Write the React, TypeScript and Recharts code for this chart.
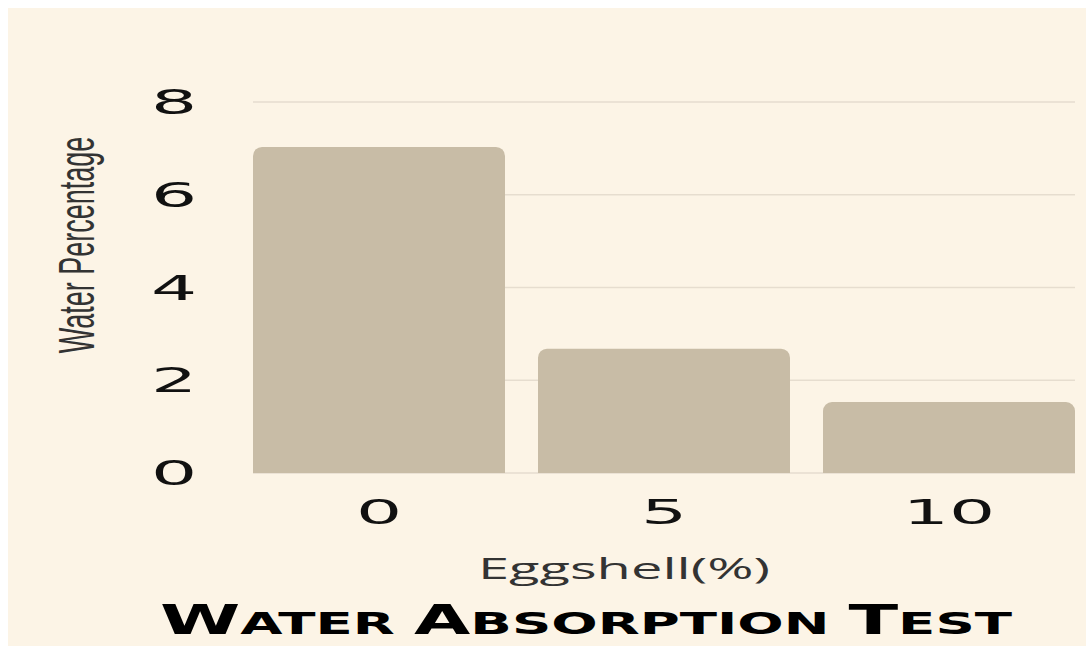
import React from 'react';
import { BarChart, Bar, XAxis, YAxis, CartesianGrid } from 'recharts';

const categories = ['0', '5', '10'];
const waterValues = [7.03, 2.68, 1.53];
const yTicks = [0, 2, 4, 6, 8];

const data = categories.map((name, i) => ({ name, water: waterValues[i] }));

const BG = '#fcf4e6';
const BAR = '#c8bca6';

const YTick = (props: any) => {
  const { x, y, payload } = props;
  return (
    <text
      transform={`translate(${x - 79},${y + 12}) scale(2.2,1)`}
      textAnchor="middle"
      fontFamily="DejaVu Sans"
      fontSize={33}
      fill="#111"
    >
      {payload.value}
    </text>
  );
};

const XTick = (props: any) => {
  const { x, y, payload } = props;
  return (
    <text
      transform={`translate(${x},${y + 51}) scale(2.2,1)`}
      textAnchor="middle"
      fontFamily="DejaVu Sans"
      fontSize={33}
      fill="#111"
    >
      {payload.value}
    </text>
  );
};

const XLabel = () => (
  <text
    x={616}
    y={571}
    textAnchor="middle"
    fontFamily="Open Sans"
    fontSize={30}
    fill="#333"
    textLength={292}
    lengthAdjust="spacingAndGlyphs"
  >
    Eggshell(%)
  </text>
);

// rotated, then stretched across the page x direction
const YLabel = () => (
  <text
    transform="translate(86,237) rotate(-90) scale(1,1.85)"
    textAnchor="middle"
    fontFamily="Liberation Sans"
    fontSize={27}
    fill="#333"
  >
    Water Percentage
  </text>
);

const App: React.FC = () => {
  return (
    <div style={{ position: 'absolute', left: 8, top: 8, width: 1078, height: 638, background: BG }}>
      <BarChart
        width={1078}
        height={638}
        data={data}
        margin={{ top: 94, right: 11, left: 0, bottom: 53 }}
        barCategoryGap={16.5}
      >
        <CartesianGrid vertical={false} stroke="#e6ddcf" strokeWidth={1.5} />
        <XAxis
          dataKey="name"
          height={120}
          axisLine={false}
          tickLine={false}
          tickSize={0}
          tickMargin={0}
          padding={{ left: -16.5, right: -16.5 }}
          tick={<XTick />}
          label={<XLabel />}
        />
        <YAxis
          width={245}
          domain={[0, 8]}
          ticks={yTicks}
          axisLine={false}
          tickLine={false}
          tickSize={0}
          tickMargin={0}
          tick={<YTick />}
          label={<YLabel />}
        />
        <Bar dataKey="water" fill={BAR} radius={[9, 9, 0, 0]} isAnimationActive={false} />
      </BarChart>
      <svg
        width={1078}
        height={638}
        style={{ position: 'absolute', left: 0, top: 0, pointerEvents: 'none' }}
      >
        <text
          x={578}
          y={626}
          textAnchor="middle"
          fontFamily="DejaVu Sans"
          fontWeight={900}
          fill="#000"
          textLength={852}
          lengthAdjust="spacingAndGlyphs"
        >
          <tspan fontSize={40}>W</tspan>
          <tspan fontSize={30}>ATER </tspan>
          <tspan fontSize={40}>A</tspan>
          <tspan fontSize={30}>BSORPTION </tspan>
          <tspan fontSize={40}>T</tspan>
          <tspan fontSize={30}>EST</tspan>
        </text>
      </svg>
    </div>
  );
};

export default App;
